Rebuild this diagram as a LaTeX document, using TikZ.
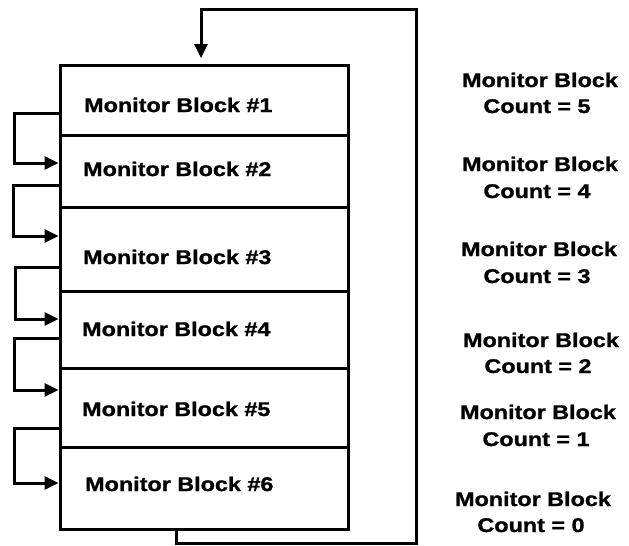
\documentclass[tikz,border=0pt]{standalone}
\usepackage{fontspec}
\setmainfont{Liberation Sans}[FakeStretch=1.18, BoldFeatures={FakeBold=1.2}]
\usetikzlibrary{arrows.meta}
\begin{document}
\begin{tikzpicture}[x=1pt,y=-1pt,
  blk/.style={draw, line width=3pt, minimum width=288pt, inner sep=0pt, outer sep=0pt},
  txt/.style={anchor=base west, inner sep=0pt, font=\fontsize{19.8}{22}\selectfont\bfseries},
  lbl/.style={anchor=base, inner sep=0pt, font=\fontsize{19.8}{22}\selectfont\bfseries},
  conn/.style={draw, line width=3pt, -{Triangle[length=14pt,width=13pt]}, shorten >=1.5pt}
]
\useasboundingbox (0,0) rectangle (629,546);
% blocks
\node[blk, minimum height=70pt] (b1) at (204,100) {};
\node[blk, minimum height=72pt] (b2) at (204,171) {};
\node[blk, minimum height=84pt] (b3) at (204,249) {};
\node[blk, minimum height=77pt] (b4) at (204,329.5) {};
\node[blk, minimum height=79pt] (b5) at (204,407.5) {};
\node[blk, minimum height=82pt] (b6) at (204,488) {};
% block texts
\node[txt] (t1) at (84,112) {Monitor Block \#1};
\node[txt] (t2) at (83,176) {Monitor Block \#2};
\node[txt] (t3) at (83,264) {Monitor Block \#3};
\node[txt] (t4) at (82,336) {Monitor Block \#4};
\node[txt] (t5) at (82,416) {Monitor Block \#5};
\node[txt] (t6) at (85,491) {Monitor Block \#6};
% chain connectors
\draw[conn] (b1.west |- 0,113) -- (14,113) |- (b2.west |- 0,163);
\draw[conn] (b2.west |- 0,185) -- (13,185) |- (b3.west |- 0,236);
\draw[conn] (b3.west |- 0,267) -- (15,267) |- (b4.west |- 0,319);
\draw[conn] (b4.west |- 0,338) -- (14,338) |- (b5.west |- 0,390);
\draw[conn] (62,428) -- (14,428) |- (b6.west |- 0,483);
% feedback loop
\draw[conn, shorten >=7pt] (b6.south -| 176,0) |- (416,543) -- (416,9) -| (b1.north -| 201,0);
% right labels
\node[lbl] (m5) at (540,87) {Monitor Block};
\node[lbl] (c5) at (537,113) {Count = 5};
\node[lbl] (m4) at (540,171) {Monitor Block};
\node[lbl] (c4) at (537,198) {Count = 4};
\node[lbl] (m3) at (539,256) {Monitor Block};
\node[lbl] (c3) at (537,283) {Count = 3};
\node[lbl] (m2) at (541,347) {Monitor Block};
\node[lbl] (c2) at (538,373) {Count = 2};
\node[lbl] (m1) at (538,419) {Monitor Block};
\node[lbl] (c1) at (536,446) {Count = 1};
\node[lbl] (m0) at (533,506) {Monitor Block};
\node[lbl] (c0) at (531,532) {Count = 0};
\end{tikzpicture}
\end{document}
